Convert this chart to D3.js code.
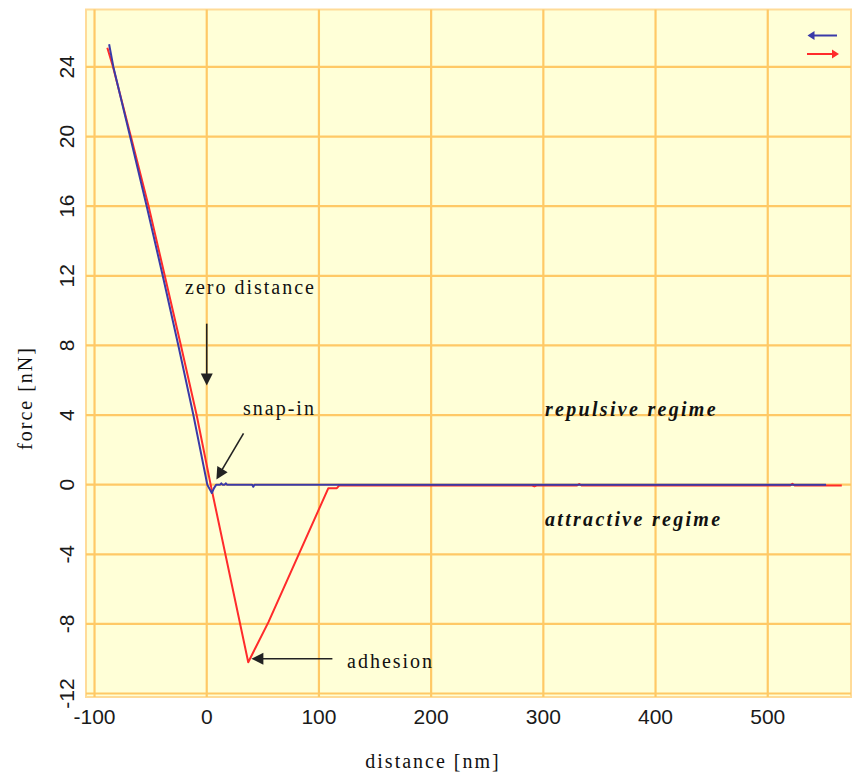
<!DOCTYPE html>
<html>
<head>
<meta charset="utf-8">
<script src="https://cdn.jsdelivr.net/npm/d3@7/dist/d3.min.js"></script>
<style>
  html, body { margin: 0; padding: 0; background: #ffffff; }
  svg { display: block; }
  .tick-label { font-family: "Liberation Sans", Arial, sans-serif; font-size: 21px; fill: #1a1a1a; }
  .axis-title, .note { font-family: "Liberation Serif", "Times New Roman", serif; font-size: 20px; fill: #111; letter-spacing: 2px; }
  .regime { font-family: "Liberation Serif", "Times New Roman", serif; font-size: 20px; font-weight: bold; font-style: italic; fill: #111; letter-spacing: 2.3px; }
</style>
</head>
<body>
<script>
// Approach curve (tip moving towards the sample): distance [nm], force [nN]
const approachDistance = [-87, -83.2, -68.3, -53.5, -39.2, -25.3, -11.9, 0.5, 3, 4.5, 6.5, 8.5, 12, 13, 14, 16, 17, 18, 20, 40.5, 41.5, 42.5, 150, 300, 552];
const approachForce    = [25.3, 24, 20, 16, 12, 8, 4, 0, -0.3, -0.48, -0.2, 0, 0, 0.08, 0, 0, 0.08, 0, 0, 0, -0.12, 0, 0, 0, 0];

// Retract curve (tip pulled away from the sample)
const retractDistance = [-88.6, -83.5, -67.6, -51.8, -37.4, -23, -9, 3.5, 37, 55, 108.4, 116, 118, 125, 290, 292, 294, 330, 332, 334, 420, 520, 522, 524, 566];
const retractForce    = [25.1, 24, 20, 16, 12, 8, 4, 0, -10.2, -7.9, -0.2, -0.2, -0.05, -0.05, -0.05, -0.1, -0.05, -0.05, 0.04, -0.05, -0.05, -0.05, 0.05, -0.05, -0.05];

// Axis ticks
const xTicks = [-100, 0, 100, 200, 300, 400, 500];
const yTicks = [-12, -8, -4, 0, 4, 8, 12, 16, 20, 24];

const W = 855, H = 776;
const plot = { left: 86, top: 9.5, right: 851, bottom: 697 };

const x = d3.scaleLinear().domain([-107.6, 574.2]).range([plot.left, plot.right]);
const y = d3.scaleLinear().domain([-12.2, 27.3]).range([plot.bottom, plot.top]);

const svg = d3.select("body").append("svg").attr("width", W).attr("height", H);

// plot background
svg.append("rect")
  .attr("x", plot.left).attr("y", plot.top)
  .attr("width", plot.right - plot.left).attr("height", plot.bottom - plot.top)
  .attr("fill", "#ffffd7")
  .attr("stroke", "#ffdb98").attr("stroke-width", 2);

// grid
const grid = svg.append("g").attr("stroke", "#ffc966").attr("stroke-width", 2.2);
grid.selectAll("line.v").data(xTicks).join("line")
  .attr("x1", d => x(d)).attr("x2", d => x(d))
  .attr("y1", plot.top).attr("y2", plot.bottom);
grid.selectAll("line.h").data(yTicks).join("line")
  .attr("y1", d => y(d)).attr("y2", d => y(d))
  .attr("x1", plot.left).attr("x2", plot.right);

// tick labels
svg.append("g").selectAll("text").data(xTicks).join("text")
  .attr("class", "tick-label")
  .attr("x", d => x(d)).attr("y", 724)
  .attr("text-anchor", "middle")
  .text(d => d);

svg.append("g").selectAll("text").data(yTicks).join("text")
  .attr("class", "tick-label")
  .attr("transform", d => `translate(74,${y(d)}) rotate(-90)`)
  .attr("text-anchor", "middle")
  .text(d => d);

// axis titles
svg.append("text").attr("class", "axis-title")
  .attr("x", 433).attr("y", 768).attr("text-anchor", "middle")
  .text("distance [nm]");
svg.append("text").attr("class", "axis-title")
  .attr("transform", "translate(32,398) rotate(-90)")
  .attr("text-anchor", "middle")
  .text("force [nN]");

// curves
svg.append("defs").append("clipPath").attr("id", "plot-clip")
  .append("rect").attr("x", plot.left).attr("y", plot.top)
  .attr("width", plot.right - plot.left).attr("height", plot.bottom - plot.top);

const line = d3.line().x(d => x(d[0])).y(d => y(d[1]));
const curves = svg.append("g").attr("clip-path", "url(#plot-clip)").attr("fill", "none")
  .attr("stroke-width", 2).attr("stroke-linejoin", "round");

curves.append("path")
  .datum(d3.zip(retractDistance, retractForce))
  .attr("stroke", "#ff2b2b")
  .attr("d", line);
curves.append("path")
  .datum(d3.zip(approachDistance, approachForce))
  .attr("stroke", "#3a3aa8")
  .attr("d", line);

// arrow helper: shaft from (x1,y1) to a filled head whose tip is at (x2,y2)
function arrow(g, x1, y1, x2, y2, color, len, half, width) {
  const dx = x2 - x1, dy = y2 - y1, L = Math.hypot(dx, dy);
  const ux = dx / L, uy = dy / L;
  const bx = x2 - ux * len, by = y2 - uy * len;
  g.append("line").attr("x1", x1).attr("y1", y1).attr("x2", bx + ux * 1).attr("y2", by + uy * 1)
    .attr("stroke", color).attr("stroke-width", width);
  g.append("path")
    .attr("d", `M${x2},${y2}L${bx - uy * half},${by + ux * half}L${bx + uy * half},${by - ux * half}Z`)
    .attr("fill", color);
}

const notes = svg.append("g");
arrow(notes, x(0), y(9.25), x(0), y(5.7), "#222", 12, 6, 1.6);
arrow(notes, x(32.8), y(2.95), x(8.6), y(0.3), "#222", 12, 6, 1.6);
arrow(notes, x(112), y(-10.0), x(39.8), y(-10.0), "#222", 12, 6, 1.6);

notes.append("text").attr("class", "note").attr("x", 185).attr("y", 294).text("zero distance");
notes.append("text").attr("class", "note").attr("x", 243).attr("y", 415).text("snap-in");
notes.append("text").attr("class", "note").attr("x", 347).attr("y", 668).text("adhesion");
notes.append("text").attr("class", "regime").attr("x", 545).attr("y", 416).text("repulsive regime");
notes.append("text").attr("class", "regime").attr("x", 545).attr("y", 526).text("attractive regime");

// legend: approach (left-pointing, blue) and retract (right-pointing, red)
const legend = svg.append("g");
arrow(legend, 837, 35.5, 807.5, 35.5, "#3a3aa8", 7, 4.5, 2);
arrow(legend, 807, 54, 839, 54, "#ff2b2b", 7, 4.5, 2);
</script>
</body>
</html>
